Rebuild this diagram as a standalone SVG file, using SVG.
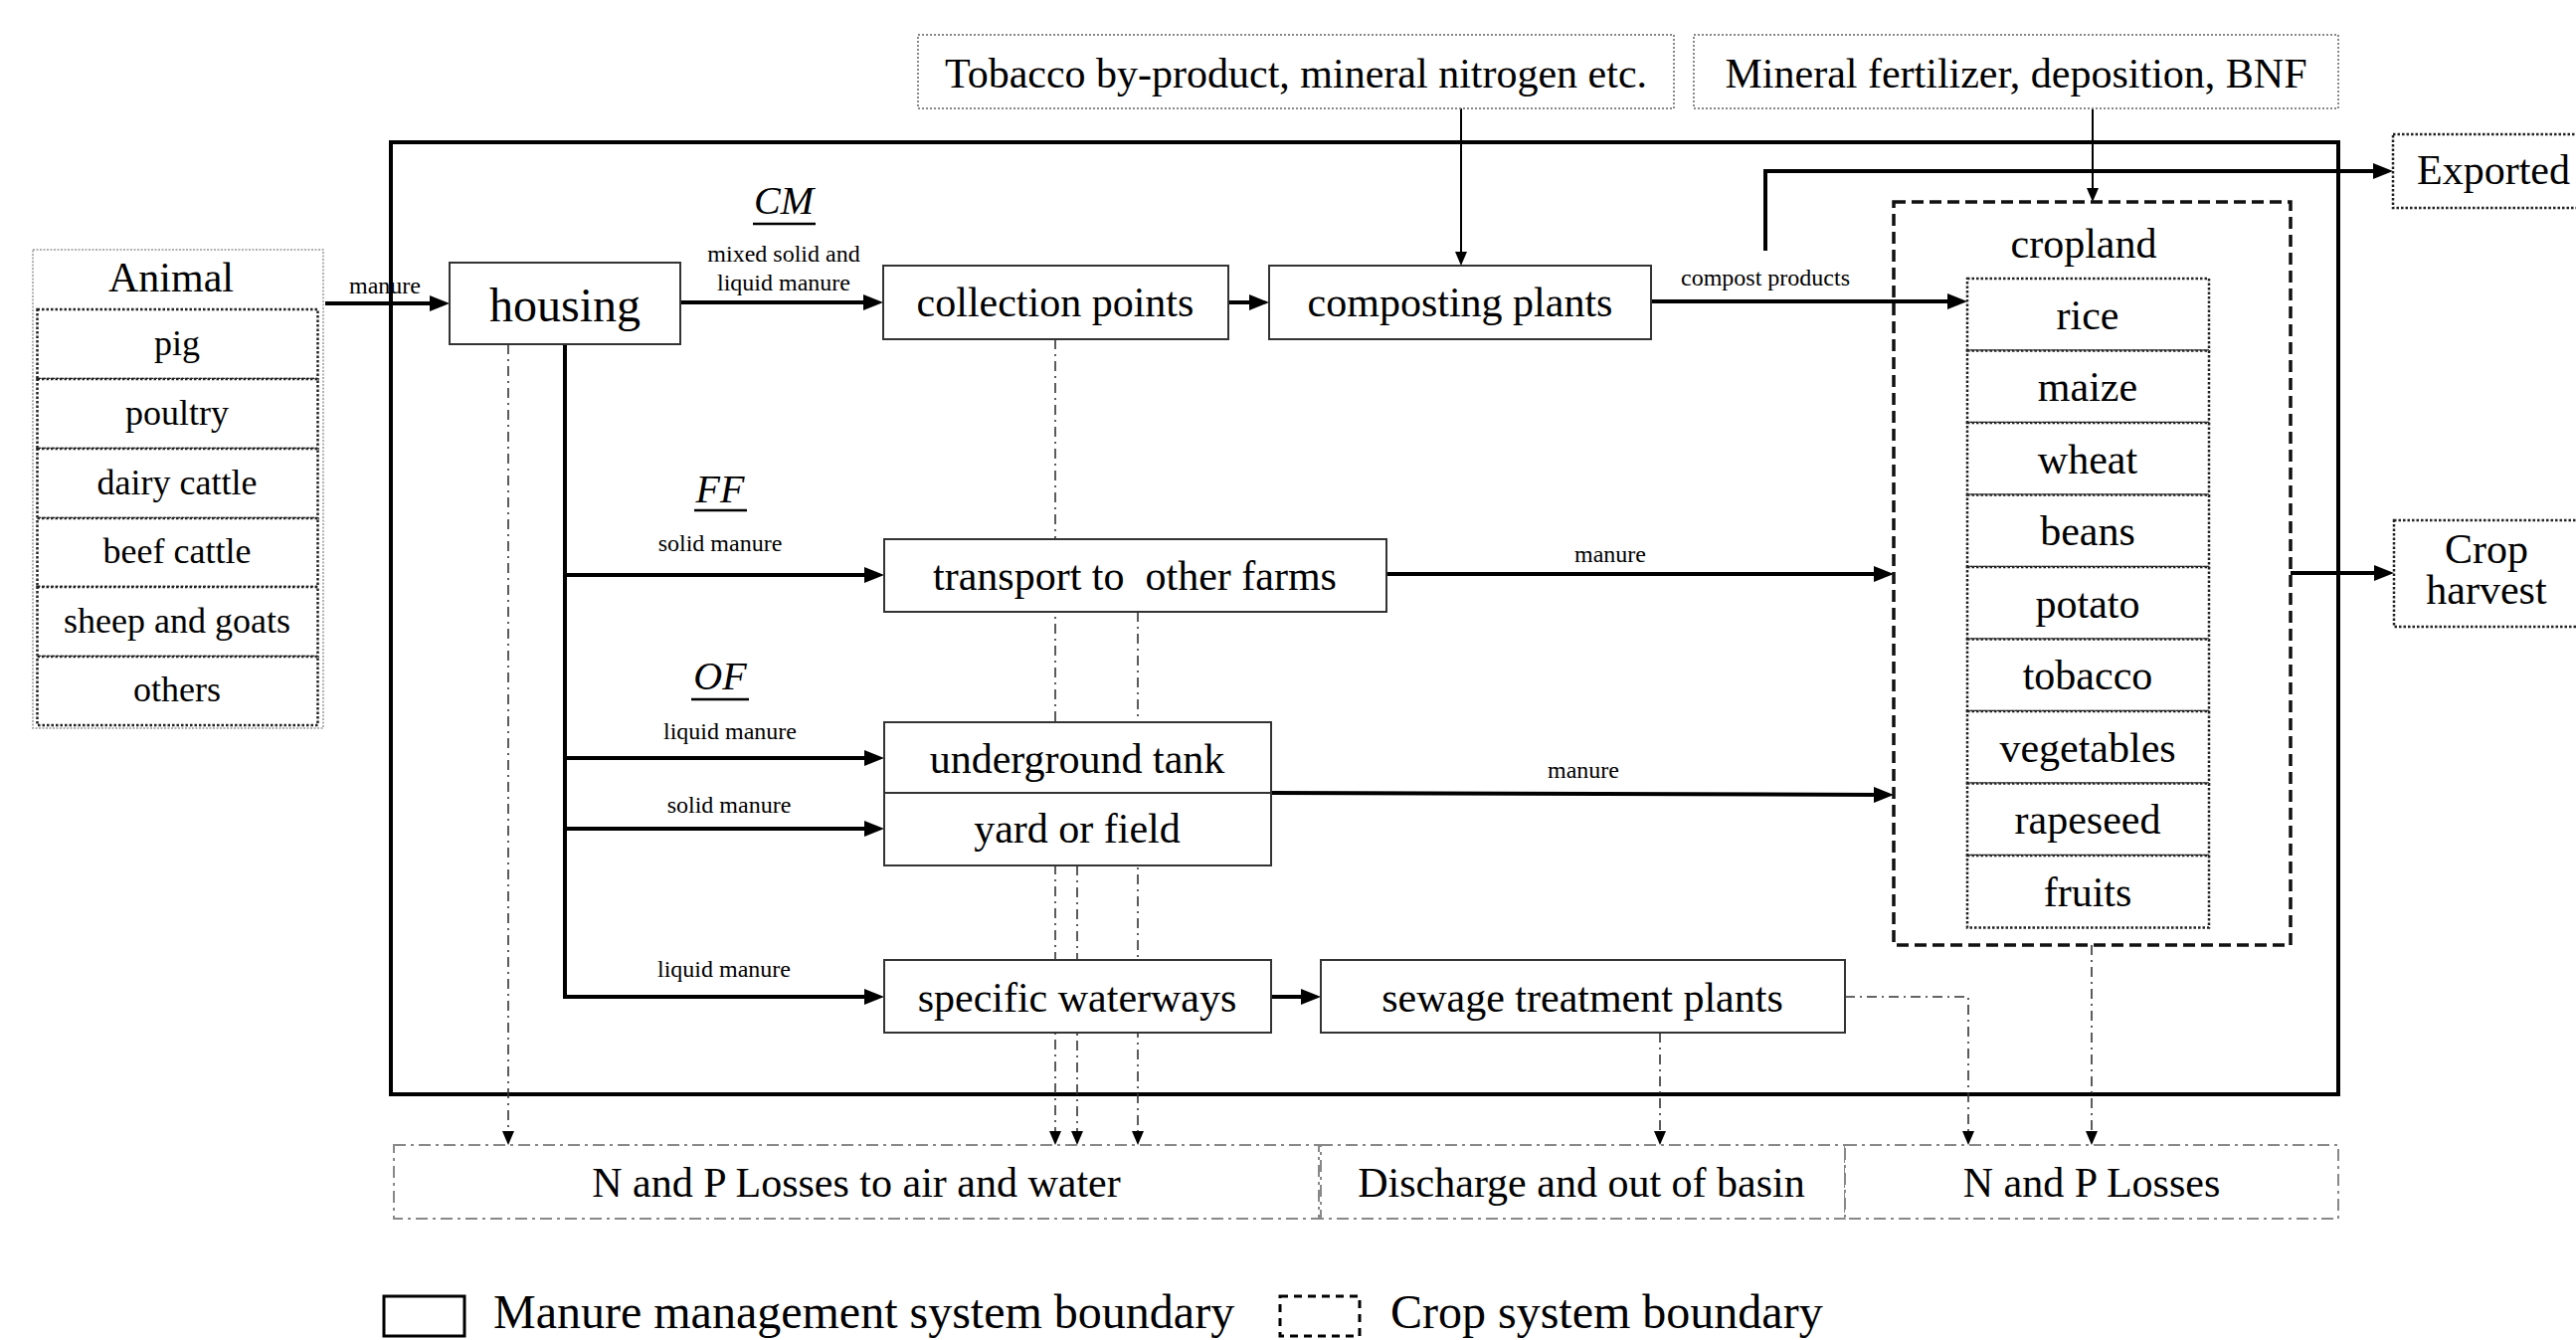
<svg xmlns="http://www.w3.org/2000/svg" width="2590" height="1347" viewBox="0 0 2590 1347">
  <defs>
    <style>
      text { font-family: "Liberation Serif", "Times New Roman", serif; fill: #000; }
      .t42 { font-size: 42px; text-anchor: middle; }
      .t36 { font-size: 36px; text-anchor: middle; }
      .t48 { font-size: 48px; }
      .lbl { font-size: 24px; text-anchor: middle; }
      .tag { font-size: 40px; font-style: italic; text-anchor: middle; }
      .box { fill: #fff; stroke: #333; stroke-width: 2; }
      .dotg { fill: #fff; stroke: #888; stroke-width: 2; stroke-dasharray: 2 2; }
      .dotk { fill: #fff; stroke: #222; stroke-width: 2.5; stroke-dasharray: 2.5 2; }
      .loss { fill: #fff; stroke: #888; stroke-width: 2; stroke-dasharray: 12 5 3 5; }
      .crop { fill: none; stroke: #111; stroke-width: 3.5; stroke-dasharray: 12 6; }
      .thick { fill: none; stroke: #000; stroke-width: 4; }
      .thin { fill: none; stroke: #000; stroke-width: 2; }
      .dd { fill: none; stroke: #333; stroke-width: 1.6; stroke-dasharray: 10 5 2 5; }
      .ul { stroke: #000; stroke-width: 2.5; }
    </style>
    <marker id="ah" markerUnits="userSpaceOnUse" markerWidth="20" markerHeight="16" refX="14" refY="8" orient="auto">
      <path d="M0,0 L20,8 L0,16 z" fill="#000"/>
    </marker>
    <marker id="ahs" markerUnits="userSpaceOnUse" markerWidth="14" markerHeight="12" refX="10" refY="6" orient="auto">
      <path d="M0,0 L14,6 L0,12 z" fill="#000"/>
    </marker>
  </defs>

  <rect width="2590" height="1347" fill="#fff"/>

  <!-- manure management system boundary -->
  <rect id="manure-boundary" x="393" y="143" width="1958" height="957" fill="none" stroke="#000" stroke-width="4"/>

  <!-- connectors -->
  <g id="connectors">
    <!-- loss paths (dash-dot) -->
    <line class="dd" x1="511" y1="346" x2="511" y2="1147" marker-end="url(#ahs)"/>
    <line class="dd" x1="1061" y1="341" x2="1061" y2="1147" marker-end="url(#ahs)"/>
    <line class="dd" x1="1083" y1="870" x2="1083" y2="1147" marker-end="url(#ahs)"/>
    <line class="dd" x1="1144" y1="615" x2="1144" y2="1147" marker-end="url(#ahs)"/>
    <line class="dd" x1="1669" y1="1038" x2="1669" y2="1147" marker-end="url(#ahs)"/>
    <polyline class="dd" points="1855,1002 1979,1002 1979,1147" marker-end="url(#ahs)"/>
    <line class="dd" x1="2103" y1="950" x2="2103" y2="1147" marker-end="url(#ahs)"/>

    <!-- external inputs -->
    <line class="thin" x1="1469" y1="109" x2="1469" y2="263" marker-end="url(#ahs)"/>
    <line class="thin" x1="2104" y1="109" x2="2104" y2="199" marker-end="url(#ahs)"/>

    <!-- manure flows -->
    <line class="thick" x1="327" y1="305" x2="446" y2="305" marker-end="url(#ah)"/>
    <line class="thick" x1="684" y1="304" x2="882" y2="304" marker-end="url(#ah)"/>
    <line class="thick" x1="1235" y1="304" x2="1270" y2="304" marker-end="url(#ah)"/>
    <line class="thick" x1="1660" y1="303" x2="1972" y2="303" marker-end="url(#ah)"/>
    <polyline class="thick" points="1775,252 1775,172 2400,172" marker-end="url(#ah)"/>
    <line class="thick" x1="568" y1="346" x2="568" y2="1004"/>
    <line class="thick" x1="566" y1="578" x2="883" y2="578" marker-end="url(#ah)"/>
    <line class="thick" x1="566" y1="762" x2="883" y2="762" marker-end="url(#ah)"/>
    <line class="thick" x1="566" y1="833" x2="883" y2="833" marker-end="url(#ah)"/>
    <line class="thick" x1="566" y1="1002" x2="883" y2="1002" marker-end="url(#ah)"/>
    <line class="thick" x1="1394" y1="577" x2="1898" y2="577" marker-end="url(#ah)"/>
    <line class="thick" x1="1278" y1="797" x2="1898" y2="799" marker-end="url(#ah)"/>
    <line class="thick" x1="1278" y1="1002" x2="1322" y2="1002" marker-end="url(#ah)"/>
    <line class="thick" x1="2303" y1="576" x2="2401" y2="576" marker-end="url(#ah)"/>

    <!-- flow labels -->
    <text class="lbl" x="387" y="295">manure</text>
    <text class="tag" x="788" y="215">CM</text>
    <line class="ul" x1="757" y1="225" x2="820" y2="225"/>
    <text class="lbl" x="788" y="263">mixed solid and</text>
    <text class="lbl" x="788" y="292">liquid manure</text>
    <text class="tag" x="724" y="505">FF</text>
    <line class="ul" x1="698" y1="513" x2="751" y2="513"/>
    <text class="lbl" x="724" y="554">solid manure</text>
    <text class="tag" x="724" y="693">OF</text>
    <line class="ul" x1="695" y1="703" x2="753" y2="703"/>
    <text class="lbl" x="734" y="743">liquid manure</text>
    <text class="lbl" x="733" y="817">solid manure</text>
    <text class="lbl" x="728" y="982">liquid manure</text>
    <text class="lbl" x="1775" y="287">compost products</text>
    <text class="lbl" x="1619" y="565">manure</text>
    <text class="lbl" x="1592" y="782">manure</text>
  </g>

  <!-- animal sources -->
  <g id="animal">
    <rect x="33" y="251" width="292" height="481" fill="#fff" stroke="#999" stroke-width="1.5" stroke-dasharray="2 1.5"/>
    <text x="172" y="293" font-size="42" text-anchor="middle">Animal</text>
    <rect class="dotk" x="37.5" y="311" width="282" height="70"/>
    <rect class="dotk" x="37.5" y="381" width="282" height="70"/>
    <rect class="dotk" x="37.5" y="451" width="282" height="70"/>
    <rect class="dotk" x="37.5" y="521" width="282" height="69"/>
    <rect class="dotk" x="37.5" y="590" width="282" height="70"/>
    <rect class="dotk" x="37.5" y="660" width="282" height="69"/>
    <text class="t36" x="178" y="357">pig</text>
    <text class="t36" x="178" y="427">poultry</text>
    <text class="t36" x="178" y="497">dairy cattle</text>
    <text class="t36" x="178" y="566">beef cattle</text>
    <text class="t36" x="178" y="636">sheep and goats</text>
    <text class="t36" x="178" y="705">others</text>
  </g>

  <g id="housing">
    <rect class="box" x="452" y="264" width="232" height="82"/>
    <text x="568" y="323" font-size="48" text-anchor="middle">housing</text>
  </g>

  <g id="tobacco-input">
    <rect class="dotg" x="923" y="35" width="760" height="74"/>
    <text class="t42" x="1303" y="88">Tobacco by-product, mineral nitrogen etc.</text>
  </g>

  <g id="mineral-input">
    <rect class="dotg" x="1703" y="35" width="648" height="74"/>
    <text class="t42" x="2027" y="88">Mineral fertilizer, deposition, BNF</text>
  </g>

  <g id="collection-points">
    <rect class="box" x="888" y="267" width="347" height="74"/>
    <text class="t42" x="1061" y="318">collection points</text>
  </g>

  <g id="composting-plants">
    <rect class="box" x="1276" y="267" width="384" height="74"/>
    <text class="t42" x="1468" y="318">composting plants</text>
  </g>

  <g id="exported">
    <rect class="dotk" x="2406" y="135" width="200" height="74"/>
    <text x="2430" y="185" font-size="42">Exported</text>
  </g>

  <g id="transport">
    <rect class="box" x="889" y="542" width="505" height="73"/>
    <text class="t42" x="1141" y="593" style="white-space:pre">transport to  other farms</text>
  </g>

  <g id="tank-yard">
    <rect class="box" x="889" y="726" width="389" height="144"/>
    <line x1="889" y1="797" x2="1278" y2="797" stroke="#333" stroke-width="2"/>
    <text class="t42" x="1083" y="777">underground tank</text>
    <text class="t42" x="1083" y="847">yard or field</text>
  </g>

  <g id="waterways">
    <rect class="box" x="889" y="965" width="389" height="73"/>
    <text class="t42" x="1083" y="1017">specific waterways</text>
  </g>

  <g id="sewage">
    <rect class="box" x="1328" y="965" width="527" height="73"/>
    <text class="t42" x="1591" y="1017">sewage treatment plants</text>
  </g>

  <!-- crop system -->
  <g id="cropland">
    <rect class="crop" x="1904" y="203" width="399" height="747"/>
    <text class="t42" x="2095" y="259">cropland</text>
    <rect class="dotk" x="1978" y="280" width="243" height="72.5"/>
    <rect class="dotk" x="1978" y="352.5" width="243" height="72.5"/>
    <rect class="dotk" x="1978" y="425" width="243" height="72.5"/>
    <rect class="dotk" x="1978" y="497.5" width="243" height="72.5"/>
    <rect class="dotk" x="1978" y="570" width="243" height="72.5"/>
    <rect class="dotk" x="1978" y="642.5" width="243" height="72.5"/>
    <rect class="dotk" x="1978" y="715" width="243" height="72.5"/>
    <rect class="dotk" x="1978" y="787.5" width="243" height="72.5"/>
    <rect class="dotk" x="1978" y="860" width="243" height="72.5"/>
    <text class="t42" x="2099" y="331">rice</text>
    <text class="t42" x="2099" y="403">maize</text>
    <text class="t42" x="2099" y="476">wheat</text>
    <text class="t42" x="2099" y="548">beans</text>
    <text class="t42" x="2099" y="621">potato</text>
    <text class="t42" x="2099" y="693">tobacco</text>
    <text class="t42" x="2099" y="766">vegetables</text>
    <text class="t42" x="2099" y="838">rapeseed</text>
    <text class="t42" x="2099" y="911">fruits</text>
  </g>

  <g id="crop-harvest">
    <rect class="dotk" x="2407" y="523" width="200" height="107"/>
    <text class="t42" x="2500" y="566">Crop</text>
    <text class="t42" x="2500" y="607">harvest</text>
  </g>

  <!-- loss sinks -->
  <g id="losses-air-water">
    <rect class="loss" x="396" y="1151" width="930" height="74"/>
    <text class="t42" x="861" y="1203">N and P Losses to air and water</text>
  </g>
  <g id="discharge">
    <rect class="loss" x="1328" y="1151" width="527" height="74"/>
    <text class="t42" x="1590" y="1203">Discharge and out of basin</text>
  </g>
  <g id="losses-crop">
    <rect class="loss" x="1855" y="1151" width="496" height="74"/>
    <text class="t42" x="2103" y="1203">N and P Losses</text>
  </g>

  <!-- legend -->
  <g id="legend">
    <rect x="386" y="1303" width="81" height="40" fill="none" stroke="#000" stroke-width="3"/>
    <text class="t48" x="496" y="1335">Manure management system boundary</text>
    <rect x="1287" y="1303" width="80" height="40" fill="none" stroke="#000" stroke-width="3" stroke-dasharray="8 6"/>
    <text class="t48" x="1398" y="1335">Crop system boundary</text>
  </g>
</svg>
